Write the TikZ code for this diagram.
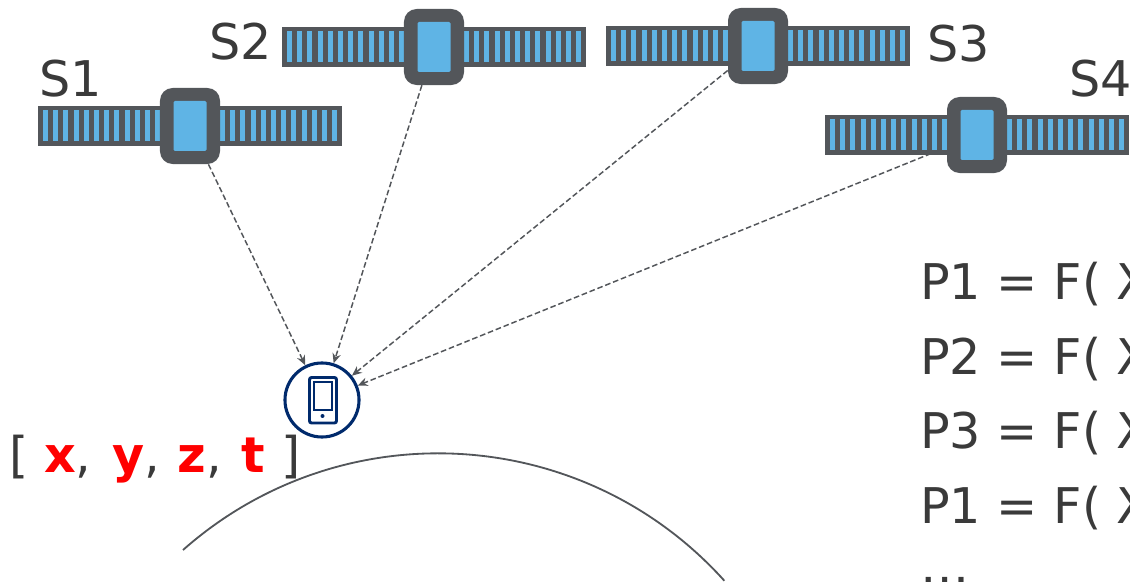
\documentclass[tikz,border=0pt]{standalone}
\usepackage{fontspec}
\setmainfont{DejaVu Sans}
\usepackage{xcolor}
\usetikzlibrary{arrows.meta,backgrounds}
\definecolor{mydark}{HTML}{53565A}
\definecolor{myblue}{HTML}{5FB4E5}
\definecolor{mynavy}{HTML}{002A6C}
\definecolor{mytext}{HTML}{3A3A3A}
\definecolor{myred}{HTML}{FF0000}
\newcommand{\redbold}[1]{\textcolor{myred}{\bfseries #1}}
\tikzset{
  biglabel/.style={anchor=base west,inner sep=0pt,text=mytext,font=\fontsize{35}{40}\selectfont},
  signal/.style={draw=mydark,line width=1.05pt,dash pattern=on 4pt off 2pt,-{Stealth[length=7pt,width=6pt]}},
  satellite/.pic={
    \fill[mydark] (-152,-20) rectangle (152,20);
    \foreach \i in {0,...,11} {
      \fill[myblue] ({-147+10.2*\i},-15.5) rectangle +(5,31);
      \fill[myblue] ({30+10.2*\i},-15.5) rectangle +(5,31);
    }
    \node[fill=mydark,rounded corners=9pt,minimum width=1.5cm,minimum height=1.9cm,inner sep=0pt] (-body) at (0,0) {};
    \fill[myblue,rounded corners=1pt] (-16.5,-25) rectangle (16.5,25);
  }
}
\begin{document}
\begin{tikzpicture}[x=0.025cm,y=-0.025cm]
\useasboundingbox (0,0) rectangle (1130,582);

\pic (s1) at (190,126) {satellite};
\pic (s2) at (434,47) {satellite};
\pic (s3) at (758,46) {satellite};
\pic (s4) at (977,135) {satellite};

\node[biglabel] (l1) at (39,97) {S1};
\node[biglabel] (l2) at (209,60) {S2};
\node[biglabel] (l3) at (927,62) {S3};
\node[biglabel] (l4) at (1069,97) {S4};

% the phone
\node[circle,draw=mynavy,line width=2.2pt,fill=white,minimum size=1.85cm,inner sep=0pt] (phone) at (322,400) {};
\draw[mynavy,line width=2.1pt,rounded corners=1.5pt] (309.5,377.5) rectangle (336.5,423);
\draw[mynavy,line width=1.6pt] (314,382) rectangle (332,410);
\fill[mynavy] (322.5,416) circle (2);

% draw the arrows
\begin{scope}[on background layer]
\draw[signal] (s1-body) -- (phone);
\draw[signal] (s2-body) -- (phone);
\draw[signal] (s3-body) -- (phone);
\draw[signal] (s4-body) -- (phone);
\end{scope}

\node[biglabel] (pos) at (9,473) {[ \redbold{x},\hspace{4pt} \redbold{y},\hspace{1pt} \redbold{z},\hspace{2.5pt} \redbold{t}\hspace{1pt} ]};

% the earth
\draw[mydark,line width=1.3pt] (183,550) arc[start angle=131.5,end angle=42,radius=9.625cm];

\node[biglabel] (p1) at (920,300) {P1 = F( X};
\node[biglabel] (p2) at (920,375) {P2 = F( X};
\node[biglabel] (p3) at (920,449) {P3 = F( X};
\node[biglabel] (p4) at (920,523) {P1 = F( X};
\node[biglabel] (dots) at (920,583) {…};

\end{tikzpicture}
\end{document}
